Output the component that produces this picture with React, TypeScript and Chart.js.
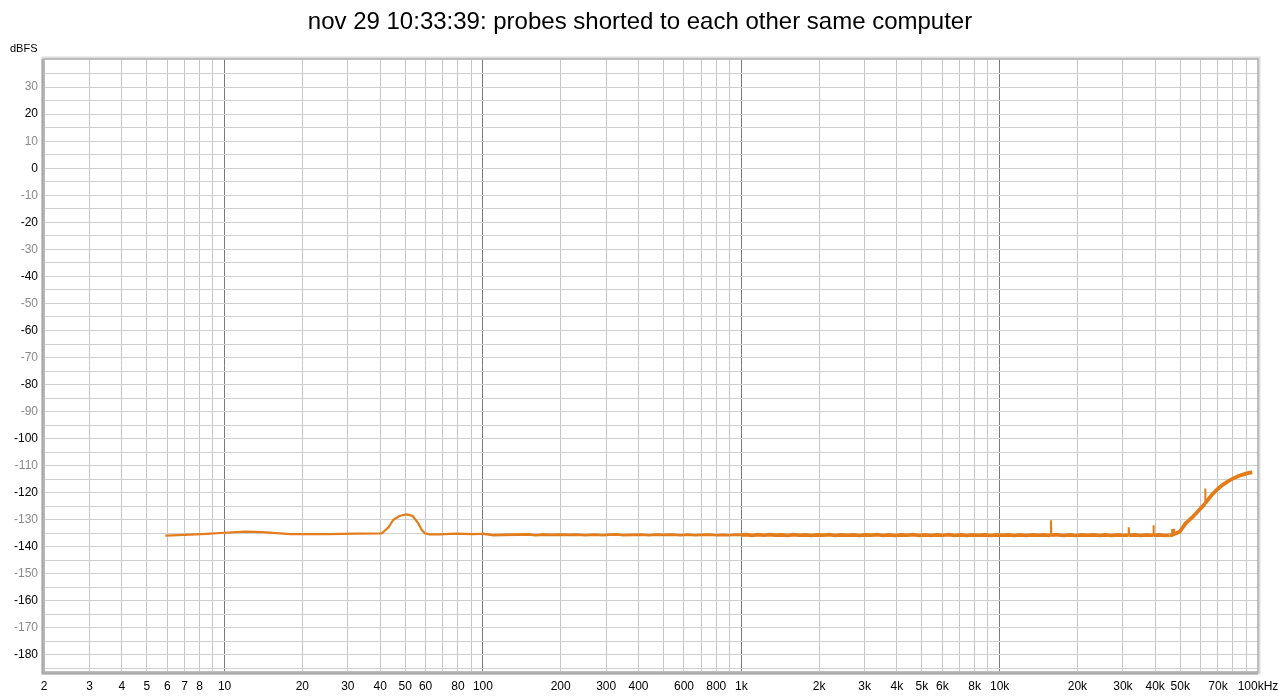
import React, { useEffect, useRef } from "react";
import { Chart, registerables } from "chart.js";

Chart.register(...registerables);

const titleText = "nov 29 10:33:39: probes shorted to each other same computer";
const yUnit = "dBFS";

// vertical grid lines (Hz)
const xGridValues = [
  2, 3, 4, 5, 6, 7, 8, 9,
  10, 20, 30, 40, 50, 60, 70, 80, 90,
  100, 200, 300, 400, 500, 600, 700, 800, 900,
  1000, 2000, 3000, 4000, 5000, 6000, 7000, 8000, 9000,
  10000, 20000, 30000, 40000, 50000, 60000, 70000, 80000, 90000, 100000,
];
const xDecades = [10, 100, 1000, 10000];
const xLabelValues = [
  2, 3, 4, 5, 6, 7, 8, 10, 20, 30, 40, 50, 60, 80, 100, 200, 300, 400, 600, 800,
  1000, 2000, 3000, 4000, 5000, 6000, 8000, 10000, 20000, 30000, 40000, 50000, 70000, 100000,
];
const xLabelTexts = [
  "2", "3", "4", "5", "6", "7", "8", "10", "20", "30", "40", "50", "60", "80", "100", "200", "300", "400", "600", "800",
  "1k", "2k", "3k", "4k", "5k", "6k", "8k", "10k", "20k", "30k", "40k", "50k", "70k", "100kHz",
];

// horizontal grid lines (dB)
const yGridValues = [
  35, 30, 25, 20, 15, 10, 5, 0, -5, -10, -15, -20, -25, -30, -35, -40, -45, -50, -55, -60,
  -65, -70, -75, -80, -85, -90, -95, -100, -105, -110, -115, -120, -125, -130, -135, -140,
  -145, -150, -155, -160, -165, -170, -175, -180, -185,
];

// measured spectrum
const freqs = [
  5.9, 7, 8.5, 10, 12, 14, 18, 25, 32, 40.6, 43.2, 44.9, 47.5, 50.6, 53.5, 56.2, 58, 59.6, 62, 68, 74, 80, 90,
  100, 110, 120, 135, 150, 160, 170, 185, 200, 215, 230, 250, 270, 290, 310, 330, 350, 380, 410, 440, 470, 500,
  540, 580, 620, 660, 700, 750, 800, 850, 900, 950,
  1000, 1050, 1100, 1160, 1220, 1290, 1360, 1430, 1510, 1590, 1680, 1770, 1870, 1970, 2080, 2190, 2310, 2440,
  2570, 2710, 2860, 3020, 3180, 3360, 3540, 3730, 3940, 4150, 4380, 4620, 4870, 5140, 5420, 5720, 6030, 6360,
  6710, 7080, 7470, 7880, 8310, 8770, 9250, 9760, 10300,
  10800, 11400, 12000, 12700, 13400, 14100, 14900, 15500, 15750, 15800, 15850, 16300, 16800, 17700, 18700,
  19700, 20800, 21900, 23100, 24400, 25700, 27100, 28600, 30200, 31500, 31600, 31700, 33300, 35100, 37000,
  38600, 39300, 39400, 39500, 41500, 43500, 45500, 46800, 46900, 47000, 48500, 49800, 51000, 52500, 54000,
  56000, 58000, 60000, 62000, 62400, 62500, 62600, 64000, 67000, 70000, 73000, 77000, 80000, 84000, 88000,
  92000, 95000,
];
const levels = [
  -135.9, -135.6, -135.2, -134.8, -134.4, -134.6, -135.3, -135.3, -135.1, -135.0, -132.7, -130.1, -128.6, -128.0,
  -128.6, -131.3, -133.8, -135.0, -135.4, -135.4, -135.2, -135.1, -135.3,
  -135.2, -135.7, -135.6, -135.5, -135.4, -135.7, -135.5, -135.6, -135.5, -135.6, -135.5, -135.7, -135.5,
  -135.7, -135.5, -135.4, -135.7, -135.6, -135.5, -135.7, -135.5, -135.6, -135.5, -135.7, -135.5, -135.7,
  -135.6, -135.5, -135.7, -135.6, -135.7, -135.5,
  -135.6, -135.5, -135.8, -135.5, -135.7, -135.5, -135.7, -135.6, -135.8, -135.5, -135.7, -135.6, -135.8,
  -135.6, -135.7, -135.5, -135.8, -135.6, -135.7, -135.6, -135.8, -135.6, -135.7, -135.5, -135.8, -135.6,
  -135.8, -135.6, -135.7, -135.5, -135.8, -135.6, -135.8, -135.6, -135.7, -135.5, -135.8, -135.6, -135.8,
  -135.6, -135.7, -135.6, -135.8, -135.6, -135.7,
  -135.6, -135.8, -135.6, -135.8, -135.6, -135.7, -135.6, -135.8, -135.7, -130.2, -135.7, -135.6, -135.6,
  -135.8, -135.6, -135.8, -135.6, -135.7, -135.6, -135.8, -135.6, -135.8, -135.6, -135.7, -135.7, -132.8,
  -135.7, -135.6, -135.8, -135.6, -135.7, -135.7, -132.0, -135.7, -135.6, -135.8, -135.7, -135.6, -133.4,
  -135.4, -134.9, -134.4, -133.0, -131.3, -130.2,
  -128.8, -127.3, -125.8, -124.3, -124.0, -118.4, -123.9, -122.6, -120.3, -118.5, -117.1, -115.6, -114.8,
  -113.8, -113.2, -112.7, -112.5,
];

export default function App() {
  const canvasRef = useRef<HTMLCanvasElement | null>(null);

  useEffect(() => {
    const canvas = canvasRef.current;
    if (!canvas) return;

    const decorPlugin = {
      id: "decor",
      afterDraw(chart: any) {
        const { ctx, chartArea } = chart;
        const { left, right, top, bottom } = chartArea;
        ctx.save();
        // title
        ctx.fillStyle = "#000";
        ctx.font = '24px "Liberation Sans", Arial, sans-serif';
        ctx.textAlign = "center";
        ctx.textBaseline = "middle";
        ctx.fillText(titleText, 640, 22);
        // unit
        ctx.font = '11px "Liberation Sans", Arial, sans-serif';
        ctx.textAlign = "left";
        ctx.fillText(yUnit, 10, 49);
        // frame with shadow
        ctx.strokeStyle = "#dcdcdc";
        ctx.lineWidth = 3;
        ctx.strokeRect(left - 1, top - 1, right - left + 2, bottom - top + 2);
        ctx.strokeStyle = "#b0b0b0";
        ctx.lineWidth = 1.5;
        ctx.strokeRect(left, top, right - left, bottom - top);
        ctx.strokeStyle = "#a8a8a8";
        ctx.lineWidth = 2;
        ctx.beginPath();
        ctx.moveTo(left - 1.5, top);
        ctx.lineTo(left - 1.5, bottom + 1.5);
        ctx.lineTo(right, bottom + 1.5);
        ctx.stroke();
        ctx.restore();
      },
    };

    const chart = new Chart(canvas, {
      type: "line",
      data: {
        datasets: [
          {
            data: freqs.map((f, i) => ({ x: f, y: levels[i] })),
            borderColor: "#e37c1b",
            borderWidth: 2,
            pointRadius: 0,
            tension: 0,
            fill: false,
            segment: {
              borderWidth: (c: any) => {
                const dy = Math.abs(c.p1.parsed.y - c.p0.parsed.y);
                const dx = Math.abs(c.p1.x - c.p0.x);
                if (dy > 2 && dx < 3) return 2;
                if (c.p0.parsed.x >= 45000) return 3.8;
                if (c.p0.parsed.x >= 1000) return 3.6;
                if (c.p0.parsed.x >= 100) return 2.6;
                return 2.2;
              },
            },
          },
        ],
      },
      options: {
        animation: false,
        responsive: false,
        events: [],
        layout: { padding: { top: 59, right: 22, left: 0, bottom: 0 } },
        plugins: {
          legend: { display: false },
          title: { display: false },
          tooltip: { enabled: false },
        },
        scales: {
          x: {
            type: "logarithmic",
            min: 2,
            max: 100000,
            afterBuildTicks: (scale: any) => {
              scale.ticks = xGridValues.map((v) => ({ value: v }));
            },
            afterFit: (scale: any) => {
              scale.height = 24;
              scale.paddingLeft = 0;
              scale.paddingRight = 0;
            },
            border: { display: false },
            grid: {
              drawTicks: false,
              lineWidth: 1,
              color: (c: any) =>
                c.tick && xDecades.includes(c.tick.value) ? "#7a7a7a" : "#c6c6c6",
            },
            ticks: {
              autoSkip: false,
              maxRotation: 0,
              minRotation: 0,
              padding: 7,
              color: "#000",
              font: { family: '"Liberation Sans", Arial, sans-serif', size: 12 },
              callback: (value: any) => {
                const idx = xLabelValues.indexOf(Number(value));
                return idx >= 0 ? xLabelTexts[idx] : "";
              },
            },
          },
          y: {
            type: "linear",
            min: -186.3,
            max: 40.4,
            afterBuildTicks: (scale: any) => {
              scale.ticks = yGridValues.map((v) => ({ value: v }));
            },
            afterFit: (scale: any) => {
              scale.width = 44;
            },
            border: { display: false },
            grid: {
              drawTicks: false,
              color: "#d0d0d0",
              lineWidth: 1,
            },
            ticks: {
              autoSkip: false,
              padding: 6,
              font: { family: '"Liberation Sans", Arial, sans-serif', size: 12 },
              color: (c: any) =>
                c.tick && c.tick.value % 20 === 0 ? "#000000" : "#8a8a8a",
              callback: (value: any) => {
                const v = Number(value);
                return v % 10 === 0 ? String(v) : "";
              },
            },
          },
        },
      },
      plugins: [decorPlugin],
    } as any);

    return () => {
      chart.destroy();
    };
  }, []);

  return (
    <div
      style={{
        position: "absolute",
        left: 0,
        top: 0,
        width: 1280,
        height: 696,
        background: "#ffffff",
      }}
    >
      <canvas ref={canvasRef} width={1280} height={696} />
    </div>
  );
}
